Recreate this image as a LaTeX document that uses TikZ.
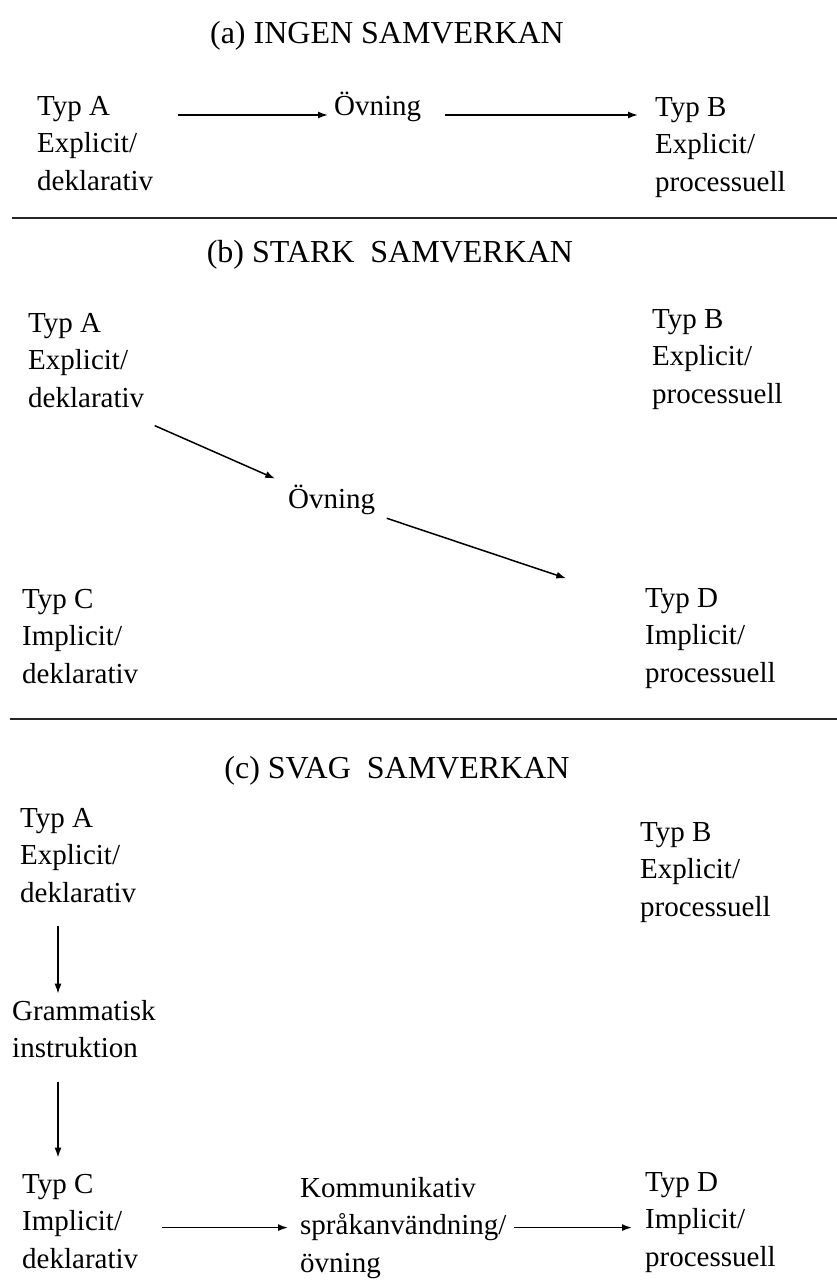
\documentclass[tikz,border=0pt]{standalone}
\usepackage{fontspec}
\setmainfont{Liberation Serif}
\usetikzlibrary{arrows.meta}

\begin{document}
\begin{tikzpicture}[x=1pt, y=-1pt,
    txt/.style={font=\fontsize{29}{37.5}\selectfont, align=left, anchor=base west, inner sep=0pt},
    rubrik/.style={font=\fontsize{32}{37.5}\selectfont, anchor=base, inner sep=0pt},
    pil/.style={-{Latex[length=10pt,width=7pt]}, line width=1.5pt},
    linje/.style={line width=2pt, black!85}]
    \useasboundingbox (0,0) rectangle (837,1280);

    % (a) ingen samverkan  (nodes sit on the baseline of their last line)
    \node[rubrik] (rubA) at (387,43) {(a) INGEN SAMVERKAN};
    \node[txt] (aA) at (37,190) {Typ A\\Explicit/\\deklarativ};
    \node[txt] (aOv) at (334,115) {Övning};
    \node[txt] (aB) at (655,191) {Typ B\\Explicit/\\processuell};
    \draw[pil, yshift=3pt, shorten <=25pt, shorten >=6pt] (aA.east |- aOv.base) -- (aOv.base west);
    \draw[pil, yshift=3pt, shorten <=24pt, shorten >=17pt] (aOv.base east) -- (aB.west |- aOv.base);
    \draw[linje] (12,218) -- (837,218);

    % (b) stark samverkan
    \node[rubrik] (rubB) at (390,262) {(b) STARK~ SAMVERKAN};
    \node[txt] (bA) at (28,407) {Typ A\\Explicit/\\deklarativ};
    \node[txt] (bB) at (652,403) {Typ B\\Explicit/\\processuell};
    \node[txt] (bOv) at (288,508) {Övning};
    \node[txt] (bC) at (22,683) {Typ C\\Implicit/\\deklarativ};
    \node[txt] (bD) at (645,682) {Typ D\\Implicit/\\processuell};
    \draw[pil, shorten <=45pt, shorten >=14pt] (bA.-60) -- (bOv.north west);
    \draw[pil, shorten <=12pt, shorten >=83pt] (bOv.south east) -- (bD.153);
    \draw[linje] (10,719) -- (837,719);

    % (c) svag samverkan
    \node[rubrik] (rubC) at (397,778) {(c) SVAG~ SAMVERKAN};
    \node[txt] (cA) at (20,902) {Typ A\\Explicit/\\deklarativ};
    \node[txt] (cB) at (640,916) {Typ B\\Explicit/\\processuell};
    \node[txt] (cG) at (12,1057.5) {Grammatisk\\instruktion};
    \node[txt] (cC) at (22,1268) {Typ C\\Implicit/\\deklarativ};
    \node[txt] (cK) at (300,1272) {Kommunikativ\\språkanvändning/\\övning};
    \node[txt] (cD) at (645,1266) {Typ D\\Implicit/\\processuell};
    \draw[pil, shorten <=24pt, shorten >=6pt] ([xshift=38pt]cA.south west) -- ([xshift=46pt]cG.north west);
    \draw[pil, shorten <=24pt, shorten >=16pt] ([xshift=46pt]cG.south west) -- ([xshift=36pt]cC.north west);
    \draw[pil, shorten <=24pt, shorten >=12pt] (cC.east |- cK.west) -- (cK.west);
    \draw[pil, shorten <=7pt, shorten >=13pt] (cK.east) -- (cD.west |- cK.east);
\end{tikzpicture}
\end{document}
